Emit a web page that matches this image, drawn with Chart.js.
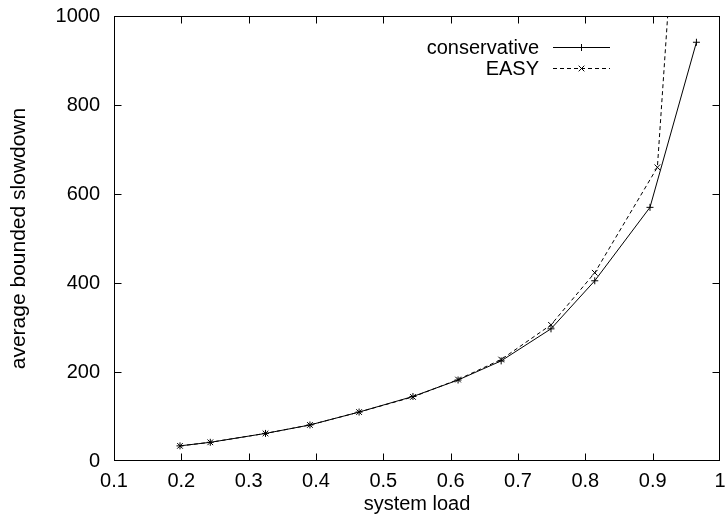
<!DOCTYPE html>
<html>
<head>
<meta charset="utf-8">
<script src="https://cdn.jsdelivr.net/npm/chart.js@4/dist/chart.umd.min.js"></script>
<style>
  html, body { margin: 0; padding: 0; background: #fff; }
  #wrap { width: 725px; height: 516px; position: relative; }
</style>
</head>
<body>
<div id="wrap"><canvas id="c" width="725" height="516"></canvas></div>
<script>
// ---- data ----
const loadConservative = [0.198, 0.243, 0.325, 0.391, 0.464, 0.544, 0.611, 0.675, 0.749, 0.814, 0.896, 0.965];
const slowdownConservative = [34, 42, 62, 81, 110, 145, 182, 225, 297, 405, 570, 941];
const loadEasy = [0.198, 0.243, 0.325, 0.391, 0.464, 0.544, 0.611, 0.675, 0.749, 0.814, 0.907, 0.965];
const slowdownEasy = [34, 42, 62, 81, 110, 144, 183, 228, 306, 423, 660, 1950];
const seriesNames = ['conservative', 'EASY'];
const xTickValues = [0.1, 0.2, 0.3, 0.4, 0.5, 0.6, 0.7, 0.8, 0.9, 1.0];
const xTickLabels = ['0.1', '0.2', '0.3', '0.4', '0.5', '0.6', '0.7', '0.8', '0.9', '1'];
const yTickValues = [0, 200, 400, 600, 800, 1000];
const yTickLabels = ['0', '200', '400', '600', '800', '1000'];
const xTitle = 'system load';
const yTitle = 'average bounded slowdown';

const FONT = '"Liberation Sans", Arial, Helvetica, sans-serif';
const FS = 20;
Chart.defaults.font.family = FONT;
Chart.defaults.font.size = FS;
Chart.defaults.color = '#000';

const toXY = (xs, ys) => xs.map((x, i) => ({ x: x, y: ys[i] }));

const frameAndTicks = {
  id: 'frameAndTicks',
  beforeDatasetsDraw(chart) {
    const { ctx, chartArea: a, scales: { x, y } } = chart;
    const L = Math.round(a.left) + 0.5, R = Math.round(a.right) - 0.5;
    const T = Math.round(a.top) + 0.5, B = Math.round(a.bottom) - 0.5;
    const tl = 7;
    ctx.save();
    ctx.strokeStyle = '#000';
    ctx.lineWidth = 1;
    ctx.beginPath();
    x.ticks.forEach(t => {
      const px = Math.round(x.getPixelForValue(t.value)) + 0.5;
      if (px <= L + 1 || px >= R - 1) return;
      ctx.moveTo(px, B); ctx.lineTo(px, B - tl);
      ctx.moveTo(px, T); ctx.lineTo(px, T + tl);
    });
    y.ticks.forEach(t => {
      const py = Math.round(y.getPixelForValue(t.value)) + 0.5;
      if (py <= T + 1 || py >= B - 1) return;
      ctx.moveTo(L, py); ctx.lineTo(L + tl, py);
      ctx.moveTo(R, py); ctx.lineTo(R - tl, py);
    });
    ctx.stroke();
    ctx.strokeRect(L, T, R - L, B - T);
    ctx.restore();
  }
};

function drawMarker(ctx, style, cx, cy, r) {
  ctx.beginPath();
  if (style === 'cross') {
    ctx.moveTo(cx - r, cy); ctx.lineTo(cx + r, cy);
    ctx.moveTo(cx, cy - r); ctx.lineTo(cx, cy + r);
  } else {
    const d = r * Math.SQRT1_2;
    ctx.moveTo(cx - d, cy - d); ctx.lineTo(cx + d, cy + d);
    ctx.moveTo(cx - d, cy + d); ctx.lineTo(cx + d, cy - d);
  }
  ctx.stroke();
}

const keyLegend = {
  id: 'keyLegend',
  afterDraw(chart) {
    const { ctx } = chart;
    const textRight = 539, lineL = 553, lineR = 610, rowY = [47, 68];
    ctx.save();
    ctx.font = FS + 'px ' + FONT;
    ctx.textAlign = 'right';
    ctx.textBaseline = 'middle';
    ctx.fillStyle = '#000';
    chart.data.datasets.forEach((ds, i) => {
      const yy = rowY[i] + 0.5;
      ctx.fillText(ds.label, textRight, rowY[i] + 1);
      ctx.strokeStyle = '#000';
      ctx.lineWidth = 1;
      ctx.setLineDash(ds.borderDash || []);
      ctx.beginPath();
      ctx.moveTo(lineL, yy); ctx.lineTo(lineR, yy);
      ctx.stroke();
      ctx.setLineDash([]);
      drawMarker(ctx, ds.pointStyle, (lineL + lineR) / 2, yy, ds.pointRadius);
    });
    ctx.restore();
  }
};

new Chart(document.getElementById('c'), {
  type: 'line',
  data: {
    datasets: [
      {
        label: seriesNames[0],
        data: toXY(loadConservative, slowdownConservative),
        borderColor: '#000', backgroundColor: '#000',
        borderWidth: 1, tension: 0, fill: false,
        pointStyle: 'cross', pointRadius: 3.5, pointBorderWidth: 1,
        pointBorderColor: '#000'
      },
      {
        label: seriesNames[1],
        data: toXY(loadEasy, slowdownEasy),
        borderColor: '#000', backgroundColor: '#000',
        borderWidth: 1, borderDash: [4, 3], tension: 0, fill: false,
        pointStyle: 'crossRot', pointRadius: 4, pointBorderWidth: 1,
        pointBorderColor: '#000'
      }
    ]
  },
  options: {
    responsive: false,
    animation: false,
    devicePixelRatio: 1,
    layout: { padding: { top: 16, right: 4, left: 0, bottom: 0 } },
    plugins: { legend: { display: false }, tooltip: { enabled: false } },
    elements: { point: { hoverRadius: 4 } },
    scales: {
      x: {
        type: 'linear',
        min: 0.1, max: 1.0,
        grid: { display: false, drawTicks: false },
        border: { display: false },
        afterBuildTicks: s => { s.ticks = xTickValues.map(v => ({ value: v })); },
        afterFit: s => { s.height = 55; s.paddingRight = 0; s.paddingLeft = 0; },
        ticks: {
          padding: 8.5, maxRotation: 0, autoSkip: false,
          callback: (v, i) => xTickLabels[i]
        },
        title: { display: true, text: xTitle, padding: { top: 0, bottom: 0 } }
      },
      y: {
        type: 'linear',
        min: 0, max: 1000,
        grid: { display: false, drawTicks: false },
        border: { display: false },
        afterBuildTicks: s => { s.ticks = yTickValues.map(v => ({ value: v })); },
        afterFit: s => { s.width = 114; s.paddingTop = 0; s.paddingBottom = 0; },
        ticks: {
          padding: 14, autoSkip: false,
          callback: (v, i) => yTickLabels[i]
        },
        title: { display: true, text: yTitle, font: { size: 21 }, padding: { top: 7, bottom: 0 } }
      }
    }
  },
  plugins: [frameAndTicks, keyLegend]
});
</script>
</body>
</html>
